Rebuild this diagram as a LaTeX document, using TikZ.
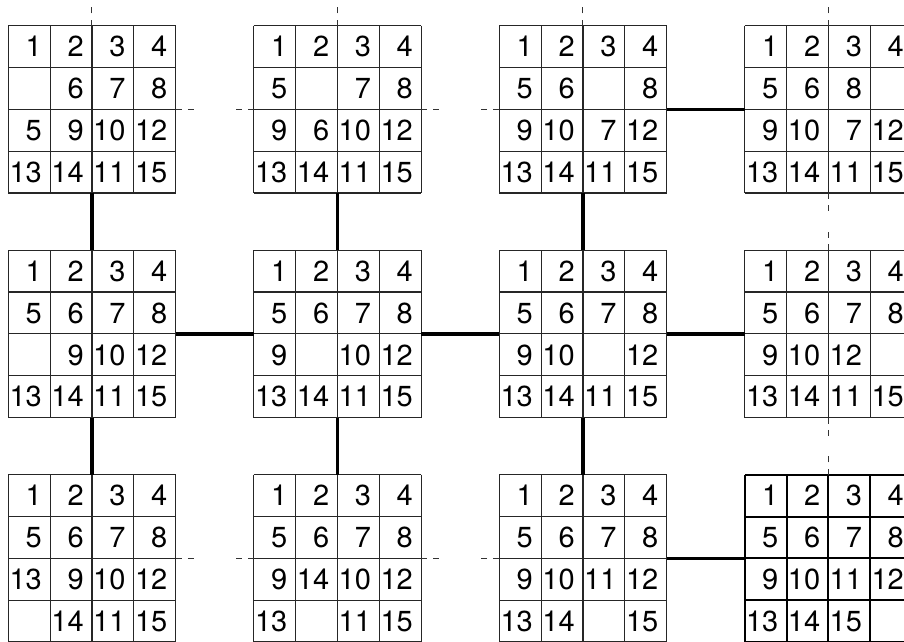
\documentclass[tikz,border=0pt]{standalone}
\usepackage{fontspec}
\setmainfont{TeX Gyre Heros}
\tikzset{
  gridbox/.style={minimum width=167.3pt, minimum height=167.3pt, inner sep=0pt, outer sep=0pt},
  gridline/.style={line width=1.1pt, black!85},
  goalline/.style={line width=2pt, black, line cap=square},
  num/.style={font=\fontsize{29}{32}\selectfont, anchor=base east, inner sep=0pt, outer sep=0pt},
  conn/.style={line width=3.3pt, black},
  stub/.style={line width=1pt, black!80, dash pattern=on 6pt off 6.3pt},
}
\newcommand\puz[5]{%
  \node[gridbox] (#1) at ({#2+83.65},{#3+83.65}) {};
  \foreach \k in {0,...,4}{
    \draw[#4] ({#2+\k*41.825},#3) -- ++(0,167.3);
    \draw[#4] (#2,{#3+\k*41.825}) -- ++(167.3,0);
  }
  \foreach \v [count=\i from 0] in {#5}{
    \ifnum\v>0
      \pgfmathtruncatemacro\prow{int(\i/4)}
      \pgfmathtruncatemacro\pcol{mod(\i,4)}
      \node[num] (#1-\i) at ({#2+(\pcol+1)*41.825-8.3},{#3+\prow*41.825+31.2}) {\v};
    \fi
  }
}
\begin{document}
\begin{tikzpicture}[x=1pt,y=-1pt]
\useasboundingbox (0,0) rectangle (904,641);
\clip (0,0) rectangle (904,641);
% row 1
\puz{g11}{8.3}{25.7}{gridline}{1,2,3,4,0,6,7,8,5,9,10,12,13,14,11,15}
\puz{g12}{253.8}{25.7}{gridline}{1,2,3,4,5,0,7,8,9,6,10,12,13,14,11,15}
\puz{g13}{499.3}{25.7}{gridline}{1,2,3,4,5,6,0,8,9,10,7,12,13,14,11,15}
\puz{g14}{744.8}{25.7}{gridline}{1,2,3,4,5,6,8,0,9,10,7,12,13,14,11,15}
% row 2
\puz{g21}{8.3}{250.2}{gridline}{1,2,3,4,5,6,7,8,0,9,10,12,13,14,11,15}
\puz{g22}{253.8}{250.2}{gridline}{1,2,3,4,5,6,7,8,9,0,10,12,13,14,11,15}
\puz{g23}{499.3}{250.2}{gridline}{1,2,3,4,5,6,7,8,9,10,0,12,13,14,11,15}
\puz{g24}{744.8}{250.2}{gridline}{1,2,3,4,5,6,7,8,9,10,12,0,13,14,11,15}
% row 3
\puz{g31}{8.3}{474.7}{gridline}{1,2,3,4,5,6,7,8,13,9,10,12,0,14,11,15}
\puz{g32}{253.8}{474.7}{gridline}{1,2,3,4,5,6,7,8,9,14,10,12,13,0,11,15}
\puz{g33}{499.3}{474.7}{gridline}{1,2,3,4,5,6,7,8,9,10,11,12,13,14,0,15}
\puz{g34}{744.8}{474.7}{goalline}{1,2,3,4,5,6,7,8,9,10,11,12,13,14,15,0}
% connectors
\draw[conn] (g11.south) -- (g21.north);
\draw[conn] (g12.south) -- (g22.north);
\draw[conn] (g13.south) -- (g23.north);
\draw[conn] (g13.east) -- (g14.west);
\draw[conn] (g21.east) -- (g22.west);
\draw[conn] (g22.east) -- (g23.west);
\draw[conn] (g23.east) -- (g24.west);
\draw[conn] (g21.south) -- (g31.north);
\draw[conn] (g22.south) -- (g32.north);
\draw[conn] (g23.south) -- (g33.north);
\draw[conn] (g33.east) -- (g34.west);
% stubs
\draw[stub] (g11.north) -- ++(0,-18.5);
\draw[stub] (g11.east) -- ++(18.5,0);
\draw[stub] (g12.north) -- ++(0,-18.5);
\draw[stub] (g12.west) -- ++(-18.5,0);
\draw[stub] (g12.east) -- ++(18.5,0);
\draw[stub] (g13.north) -- ++(0,-18.5);
\draw[stub] (g13.west) -- ++(-18.5,0);
\draw[stub] (g14.north) -- ++(0,-18.5);
\draw[stub] (g14.south) -- ++(0,18.5);
\draw[stub] (g24.north) -- ++(0,-18.5);
\draw[stub] (g24.south) -- ++(0,18.5);
\draw[stub] (g31.east) -- ++(18.5,0);
\draw[stub] (g32.west) -- ++(-18.5,0);
\draw[stub] (g32.east) -- ++(18.5,0);
\draw[stub] (g33.west) -- ++(-18.5,0);
\draw[stub] (g34.north) -- ++(0,-18.5);
\end{tikzpicture}
\end{document}
